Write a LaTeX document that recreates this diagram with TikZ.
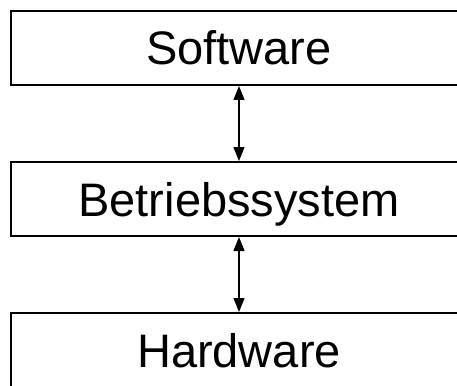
\documentclass[tikz,border=0pt]{standalone}
\usepackage{fontspec}
\setmainfont{Liberation Sans}
\usetikzlibrary{arrows.meta}
\begin{document}
\begin{tikzpicture}[x=1pt,y=-1pt,
  layer/.style={draw=black,line width=2pt,fill=white,minimum width=456pt,
    minimum height=74pt,inner sep=0pt,text height=34pt,text depth=0pt,
    font=\fontsize{47}{56}\selectfont},
  link/.style={line width=1.4pt,{Triangle[width=11pt,length=14pt]}-{Triangle[width=11pt,length=14pt]}}]
  \useasboundingbox (0,0) rectangle (457,385);
  \clip (0,0) rectangle (457,385);
  \fill[white] (0,0) rectangle (457,385);
  % the three layers, stacked top to bottom
  \node[layer] (sw) at (239,48) {Software};
  \node[layer] (bs) at (239,199) {Betriebssystem};
  \node[layer] (hw) at (239,350) {Hardware};
  % two-way links between neighbouring layers
  \draw[link] (sw.south) -- (bs.north);
  \draw[link] (bs.south) -- (hw.north);
\end{tikzpicture}
\end{document}
